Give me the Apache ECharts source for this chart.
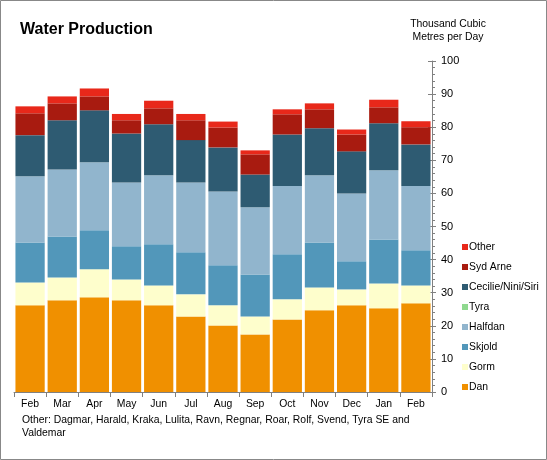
<!DOCTYPE html>
<html><head><meta charset="utf-8">
<script src="https://cdn.jsdelivr.net/npm/echarts@6/dist/echarts.min.js"></script>
<style>html,body{margin:0;padding:0;background:#fff}#c{width:547px;height:460px}</style>
</head><body><div id="c"></div>
<script>
const categories = ['Feb','Mar','Apr','May','Jun','Jul','Aug','Sep','Oct','Nov','Dec','Jan','Feb'];
const dan      = [26.2,27.7,28.6,27.7,26.2,22.8,20.1,17.4,21.9,24.7,26.2,25.3,26.8];
const gorm     = [6.9,6.9,8.5,6.3,6.0,6.7,6.1,5.4,6.1,6.9,4.8,7.5,5.4];
const skjold   = [12.1,12.4,11.8,10.0,12.4,12.7,12.1,12.7,13.6,13.6,8.5,13.3,10.6];
const halfdan  = [20.0,20.2,20.5,19.3,20.9,21.1,22.3,20.3,20.6,20.3,20.5,20.9,19.4];
const tyra     = [0,0,0,0,0,0,0,0,0,0,0,0,0];
const cecilie  = [12.4,14.9,15.7,14.8,15.4,12.8,13.3,9.9,15.6,14.2,12.7,14.2,12.6];
const sydArne  = [6.6,5.1,4.2,4.0,4.8,6.0,6.0,6.1,6.1,5.7,5.1,4.8,5.2];
const other    = [2.1,2.1,2.4,1.9,2.3,1.9,1.8,1.2,1.5,1.8,1.5,2.3,1.8];
const yTicks = [0,10,20,30,40,50,60,70,80,90,100];

const seriesDefs = [
  ['Dan', dan, '#F09000'],
  ['Gorm', gorm, '#FEFECC'],
  ['Skjold', skjold, '#5297BA'],
  ['Halfdan', halfdan, '#91B5CD'],
  ['Tyra', tyra, '#8FD98F'],
  ['Cecilie/Nini/Siri', cecilie, '#2E5B72'],
  ['Syd Arne', sydArne, '#A81B10'],
  ['Other', other, '#E8281A']
];
const font = 'Liberation Sans, Arial, sans-serif';
const fs = 10.4;
const chart = echarts.init(document.getElementById('c'), null, {renderer:'canvas'});
chart.setOption({
  animation:false,
  backgroundColor:'#fff',
  textStyle:{fontFamily:font},
  graphic:[
    {type:'rect', shape:{x:0.5,y:0.5,width:546,height:459}, style:{fill:'none',stroke:'#888',lineWidth:1}, z:-1},
    {type:'text', left:20, top:22, style:{text:'Water Production', font:'bold 16px '+font, fill:'#000'}},
    {type:'text', x:448, y:18, style:{text:'Thousand Cubic\nMetres per Day', font:fs+'px '+font, fill:'#000', align:'center', verticalAlign:'top', lineHeight:13}},
    {type:'text', left:22, top:414, style:{text:'Other: Dagmar, Harald, Kraka, Lulita, Ravn, Regnar, Roar, Rolf, Svend, Tyra SE and\nValdemar', font:fs+'px '+font, fill:'#000', lineHeight:13}}
  ],
  legend:{
    orient:'vertical', left:462, top:240, padding:0,
    itemWidth:6, itemHeight:6, itemGap:6,
    icon:'rect',
    textStyle:{fontSize:fs, color:'#000', padding:[0,0,0,-4], lineHeight:14, fontFamily:font},
    data: seriesDefs.map(d=>d[0]).reverse()
  },
  grid:{left:14, right:115, top:61, bottom:68},
  xAxis:{
    type:'category', data:categories, boundaryGap:true,
    axisLine:{lineStyle:{color:'#808080'}},
    axisTick:{show:true, length:5, lineStyle:{color:'#808080'}},
    axisLabel:{color:'#000', fontSize:fs, margin:7, fontFamily:font}
  },
  yAxis:[{
    type:'value', position:'right', min:yTicks[0], max:yTicks[yTicks.length-1], interval:10,
    axisLine:{show:true, lineStyle:{color:'#808080'}},
    axisTick:{show:true, length:4, lineStyle:{color:'#808080'}},
    minorTick:{show:true, splitNumber:5, length:3, lineStyle:{color:'#808080'}},
    splitLine:{show:false},
    axisLabel:{color:'#000', fontSize:fs+0.6, margin:9, fontFamily:font}
  },{
    type:'value', position:'right', min:yTicks[0], max:yTicks[yTicks.length-1], interval:10,
    axisLine:{show:false},
    axisTick:{show:true, inside:true, length:4, lineStyle:{color:'#808080'}},
    splitLine:{show:false},
    axisLabel:{show:false}
  }],
  series: seriesDefs.map(d=>({
    name:d[0], type:'bar', stack:'total', data:d[1],
    barCategoryGap:'9%',
    itemStyle:{color:d[2]},
    emphasis:{disabled:true}
  }))
});
</script></body></html>
